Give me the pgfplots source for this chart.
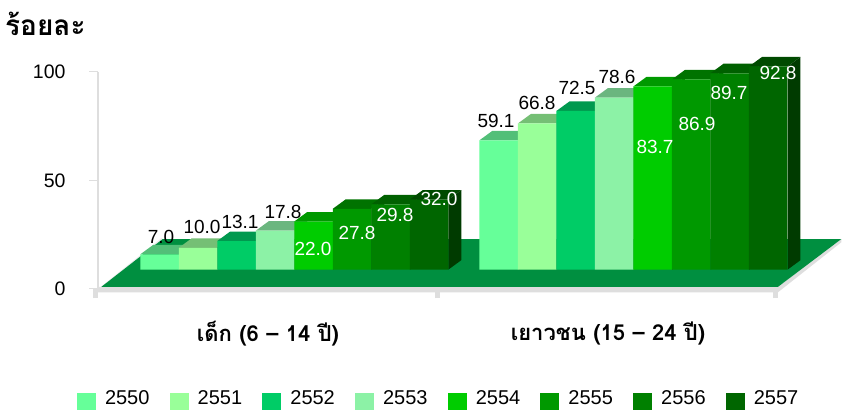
\documentclass[border=0pt]{standalone}
\usepackage{pgfplots}
\pgfplotsset{compat=1.18}
\usepackage{fontspec}
\setmainfont{Liberation Sans}
\newfontfamily\thaifont[Script=Thai]{Loma}
\definecolor{floorc}{HTML}{008F40}
\definecolor{axc}{HTML}{DEDEDE}
\definecolor{ca}{HTML}{66FF99}\definecolor{ta}{HTML}{52BF78}
\definecolor{cb}{HTML}{99FF99}\definecolor{tb}{HTML}{75BF75}
\definecolor{cc}{HTML}{00CC66}\definecolor{tc}{HTML}{00994F}
\definecolor{cd}{HTML}{8CF2A6}\definecolor{td}{HTML}{6BB67F}
\definecolor{ce}{HTML}{00CC00}\definecolor{te}{HTML}{009900}
\definecolor{cf}{HTML}{009900}\definecolor{tf}{HTML}{007300}
\definecolor{cg}{HTML}{008000}\definecolor{tg}{HTML}{006000}
\definecolor{ch}{HTML}{006600}\definecolor{th}{HTML}{004A00}
\pgfplotsset{sqlegend/.style={legend image code/.code={%
  \fill[##1] (0pt,-11.5pt) rectangle (19pt,5.5pt);
  \path (26pt,0pt);}}}
\newcommand{\barstep}{0.11349}
\newcommand{\series}[6]{% index, front, top, v1, v2, year
  \pgfmathsetmacro{\sh}{(#1-3.5)*38.5}
  \pgfmathsetmacro{\xa}{(#1-4)*\barstep}
  \pgfmathsetmacro{\xb}{(#1-3)*\barstep}
  \pgfmathsetmacro{\xc}{\xa+1}
  \pgfmathsetmacro{\xd}{\xb+1}
  \pgfmathsetmacro{\xap}{\xa+0.0383}\pgfmathsetmacro{\xbp}{\xb+0.0383}
  \pgfmathsetmacro{\xcp}{\xc+0.0383}\pgfmathsetmacro{\xdp}{\xd+0.0383}
  \pgfmathsetmacro{\ta}{#4+4.34}\pgfmathsetmacro{\tb}{#5+4.34}
  \edef\tmp{\noexpand\addplot[forget plot,fill=#3,draw=none] coordinates
    {(\xa,#4) (\xap,\ta) (\xbp,\ta) (\xb,#4)};
    \noexpand\addplot[forget plot,fill=#3,draw=none] coordinates
    {(\xc,#5) (\xcp,\tb) (\xdp,\tb) (\xd,#5)};
    \noexpand\addplot[forget plot,fill=#3!80!black,draw=none] coordinates
    {(\xb,0) (\xbp,4.34) (\xbp,\ta) (\xb,#4)};
    \noexpand\addplot[forget plot,fill=#3!80!black,draw=none] coordinates
    {(\xd,0) (\xdp,4.34) (\xdp,\tb) (\xd,#5)};
    \noexpand\addplot[ybar,bar width=38.5pt,bar shift=\sh pt,fill=#2,draw=none,sqlegend] coordinates {(0,#4) (1,#5)};
    \noexpand\addlegendentry{#6}
  }
  \tmp
}
\newcommand{\lab}[4][black]{\node[text=#1,font=\fontsize{19}{19}\selectfont,inner sep=0pt] at (#2pt,409pt-#3pt) {#4};}
\begin{document}
\begin{tikzpicture}[x=1pt,y=1pt]
\path[use as bounding box] (0,0) rectangle (842,409);
\begin{axis}[
  name=frame, at={(98pt,120pt)}, anchor=south west, scale only axis,
  width=680pt, height=217pt,
  xmin=0, xmax=2, ymin=0, ymax=100,
  axis x line=bottom, axis y line=left,
  axis line style={axc,line width=2.6pt,-},
  xtick={0,1.006,2}, xticklabels={},
  ytick={0,50,100},
  y tick style={axc,line width=1pt},
  major tick length=9pt,
  x tick style={axc,line width=5pt,xshift=-2.5pt},
  tick align=outside,
  extra x ticks={0.5,1.5},
  extra x tick labels={{\thaifont\bfseries เด็ก (6 – 14 ปี)},{\thaifont\bfseries เยาวชน (15 – 24 ปี)}},
  extra x tick style={major tick length=0pt,
     tick style={draw=none},
     xticklabel style={yshift=-29pt,font=\fontsize{22}{22}\selectfont}},
  /pgf/number format/assume math mode=true,
  tick label style={font=\fontsize{19.5}{19.5}\selectfont},
  yticklabel style={xshift=-20pt},
  clip=false,
]
\addplot[fill=axc,draw=none,forget plot] coordinates {(0,-1.5) (2,-1.5) (2.186,21.5) (2.186,23) (2,1) (0,1)};
\addplot[fill=axc!60,draw=none,forget plot] coordinates {(0.004,0.5) (0.187,23.5) (0.19,23) (0.01,1)};
\addplot[fill=floorc,draw=none,forget plot] coordinates {(0.01,1) (0.19,23) (2.186,23) (2,1)};
\end{axis}
\begin{axis}[
  name=bars, at={(98pt,139.3pt)}, anchor=south west, scale only axis,
  width=680pt, height=219pt,
  xmin=-0.5785, xmax=1.4260, ymin=0, ymax=100,
  axis lines=none, clip=false,
  legend columns=8,
  legend cell align=left,
  legend style={draw=none,fill=none,at={(axis cs:-0.6404,-59)},anchor=west,
     font=\fontsize{20}{20}\selectfont,inner sep=0pt,outer sep=0pt,
     /tikz/every even column/.append style={column sep=18.2pt}},
]
\series{0}{ca}{ta}{7.0}{59.1}{2550}
\series{1}{cb}{tb}{10.0}{66.8}{2551}
\series{2}{cc}{tc}{13.1}{72.5}{2552}
\series{3}{cd}{td}{17.8}{78.6}{2553}
\series{4}{ce}{te}{22.0}{83.7}{2554}
\series{5}{cf}{tf}{27.8}{86.9}{2555}
\series{6}{cg}{tg}{29.8}{89.7}{2556}
\series{7}{ch}{th}{32.0}{92.8}{2557}
\end{axis}
\node[anchor=west,inner sep=0pt,font=\fontsize{28}{28}\selectfont\thaifont\bfseries] at (5pt,385pt) {ร้อยละ};
\lab{161}{237}{7.0}\lab{202}{227}{10.0}\lab{240}{222}{13.1}\lab{283}{212}{17.8}
\lab[white]{313}{249}{22.0}\lab[white]{357}{233}{27.8}\lab[white]{395}{215}{29.8}\lab[white]{439}{199}{32.0}
\lab{496}{121}{59.1}\lab{537}{103}{66.8}\lab{577}{88}{72.5}\lab{617}{77}{78.6}
\lab[white]{655}{147}{83.7}\lab[white]{697}{124}{86.9}\lab[white]{729}{93}{89.7}\lab[white]{778}{73}{92.8}
\end{tikzpicture}
\end{document}
